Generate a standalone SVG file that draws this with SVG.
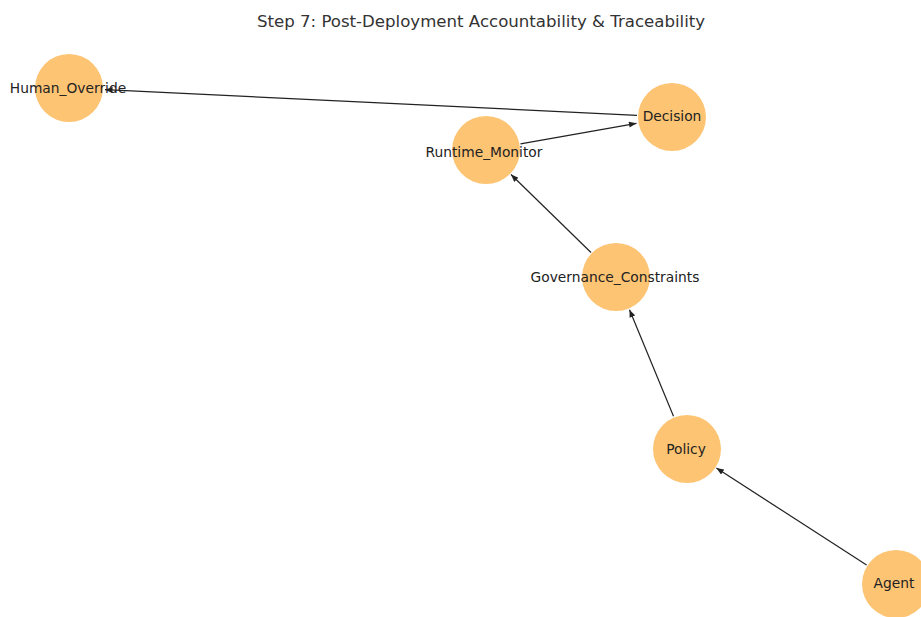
<svg xmlns="http://www.w3.org/2000/svg" width="921" height="617" viewBox="0 0 921 617">
<style>
.node circle{fill:#fdc473;stroke:none}
.node text{font-family:"DejaVu Sans",sans-serif;font-size:13.8px;fill:#222;text-anchor:middle;dominant-baseline:central}
.edge{stroke:#222;stroke-width:1.2;fill:none;marker-end:url(#arr)}
.title{font-family:"DejaVu Sans",sans-serif;font-size:16.6px;fill:#333;text-anchor:middle}
</style>
<defs>
<marker id="arr" viewBox="0 0 10 8" refX="10" refY="4" markerWidth="8" markerHeight="6" markerUnits="userSpaceOnUse" orient="auto">
<path d="M0,0 L10,4 L0,8 Z" fill="#222"/>
</marker>
</defs>
<rect width="921" height="617" fill="#fff"/>
<text class="title" x="481" y="27">Step 7: Post-Deployment Accountability &amp; Traceability</text>
<g id="edges">
<line class="edge" x1="637" y1="115.3" x2="105" y2="89.7"/>
<line class="edge" x1="520.5" y1="143.9" x2="636.5" y2="123.3"/>
<line class="edge" x1="591" y1="252.5" x2="511" y2="174.5"/>
<line class="edge" x1="673.5" y1="416.3" x2="629.5" y2="309.7"/>
<line class="edge" x1="866.6" y1="565" x2="716.4" y2="468"/>
</g>
<g id="Human_Override" class="node"><circle cx="69" cy="88" r="34"/><text x="68" y="88">Human_Override</text></g>
<g id="Decision" class="node"><circle cx="672" cy="117" r="34"/><text x="672" y="116">Decision</text></g>
<g id="Runtime_Monitor" class="node"><circle cx="486" cy="150" r="34"/><text x="484" y="152">Runtime_Monitor</text></g>
<g id="Governance_Constraints" class="node"><circle cx="616" cy="277" r="34"/><text x="615" y="277">Governance_Constraints</text></g>
<g id="Policy" class="node"><circle cx="687" cy="449" r="34"/><text x="686" y="449">Policy</text></g>
<g id="Agent" class="node"><circle cx="896" cy="584" r="34"/><text x="894" y="583">Agent</text></g>
</svg>
